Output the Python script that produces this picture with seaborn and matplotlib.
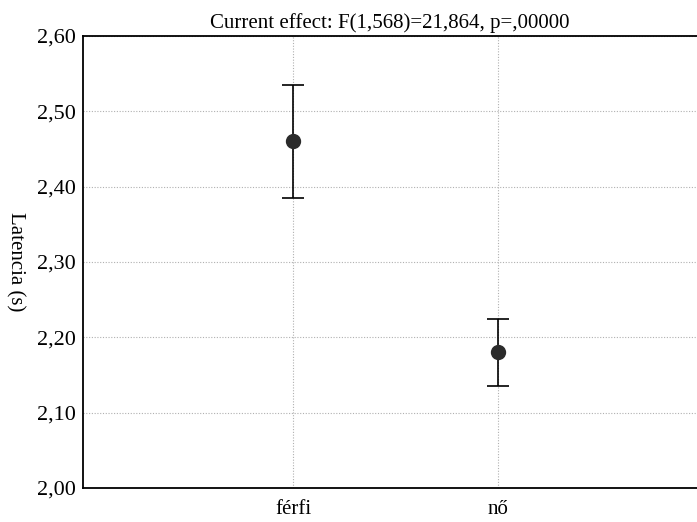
import matplotlib
matplotlib.use("Agg")
import matplotlib.pyplot as plt
import seaborn as sns
import pandas as pd

# Adatok
csoportok = ["férfi", "nő"]
atlagok = [2.46, 2.18]
hibak = [0.075, 0.045]
y_tickek = [2.0, 2.1, 2.2, 2.3, 2.4, 2.5, 2.6]

CIM = "Current effect: F(1,568)=21,864, p=,00000"
Y_CIMKE = "Latencia (s)"

sns.set_theme(style="white")
plt.rcParams['font.family'] = ['Liberation Serif', 'DejaVu Serif']
plt.rcParams['text.color'] = 'black'
plt.rcParams['axes.labelcolor'] = 'black'
plt.rcParams['xtick.color'] = 'black'
plt.rcParams['ytick.color'] = 'black'

df = pd.DataFrame({"nem": csoportok, "latencia": atlagok})

fig = plt.figure(figsize=(6.97, 5.22), dpi=100)
ax = fig.add_axes([83 / 697, 1 - 488 / 522, 614 / 697, 452 / 522])

ax.errorbar(df["nem"], df["latencia"], yerr=hibak, fmt="none",
            ecolor="black", elinewidth=1.2, capsize=8, capthick=1.2, zorder=3)
sns.pointplot(data=df, x="nem", y="latencia", ax=ax, errorbar=None,
              linestyle="none", color="#2b2b2b", markersize=9, zorder=4)

ax.set_xlim(-1.026, 1.974)
ax.set_ylim(2.0, 2.6)
ax.set_yticks(y_tickek)
ax.yaxis.set_major_formatter(plt.FuncFormatter(lambda v, p: f"{v:.2f}".replace(".", ",")))

ax.grid(True, linestyle=(0, (1, 1.5)), color="#b0b0b0", linewidth=0.8)
ax.set_axisbelow(True)
for s in ["left", "bottom", "top"]:
    ax.spines[s].set_color("black")
    ax.spines[s].set_linewidth(1.3)
ax.spines["right"].set_visible(False)

ax.tick_params(axis="y", labelsize=16, direction="out", length=3, width=1, pad=2)
ax.tick_params(axis="x", labelsize=15, direction="out", length=4, width=1, pad=5)

ax.set_xlabel("")
ax.set_ylabel(Y_CIMKE, fontsize=15, rotation=270)
ax.yaxis.set_label_coords(-0.127, 0.5)
ax.set_title(CIM, fontsize=15, pad=6)

plt.savefig("out.png", dpi=100)
